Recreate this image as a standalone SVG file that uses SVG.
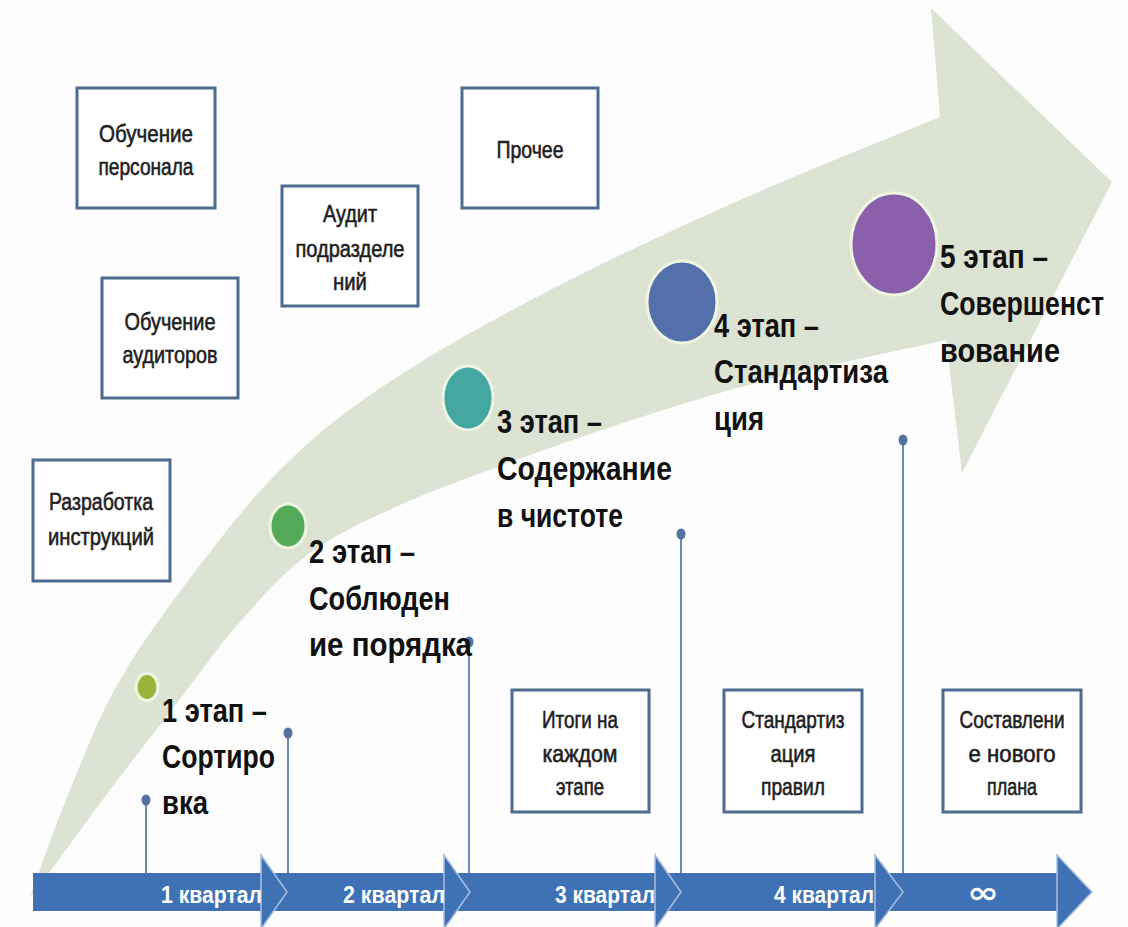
<svg xmlns="http://www.w3.org/2000/svg" width="1128" height="927" viewBox="0 0 1128 927">
<style>
.box{fill:#ffffff;stroke:#4d6c8f;stroke-width:3}
.bt{font-family:"Liberation Sans",Arial,sans-serif;font-size:24px;fill:#1e1e1e;stroke:#1e1e1e;stroke-width:0.6;text-anchor:middle}
.st{font-family:"Liberation Sans",Arial,sans-serif;font-size:33px;font-weight:bold;fill:#111111}
.tl{font-family:"Liberation Sans",Arial,sans-serif;font-size:24px;font-weight:bold;fill:#ffffff}
.stage{stroke:#eef5e2;stroke-width:3}
.conn{stroke:#6a8ab2;stroke-width:2;fill:none}
.dot{fill:#52729f}
.head{fill:#3e72b5;stroke:#a9c0dd;stroke-width:1.5}
</style>
<rect x="0" y="0" width="1128" height="927" fill="#fdfdfd"/>

<g id="curved-arrow">
<path fill="#dde3d3" d="M30,897 C36.7,879.2 55,826.2 70,790 C85,753.8 98.3,717.5 120,680 C141.7,642.5 171.7,601.7 200,565 C228.3,528.3 256.7,491.7 290,460 C323.3,428.3 355,404.2 400,375 C445,345.8 503.3,314.2 560,285 C616.7,255.8 676.7,228 740,200 C803.3,172 906.7,130.8 940,117 L931,8 L1112,182 L962,473 L946,340 C915,347 814.3,368 760,382 C705.7,396 663.3,410 620,424 C576.7,438 536.7,452.5 500,466 C463.3,479.5 431.7,490.5 400,505 C368.3,519.5 336.7,533.5 310,553 C283.3,572.5 263.3,595.5 240,622 C216.7,648.5 191.7,684 170,712 C148.3,740 128.3,765.7 110,790 C91.7,814.3 73.3,840.2 60,858 C46.7,875.8 35,890.5 30,897 Z"/>
</g>

<g id="connectors">
<line class="conn" x1="146" y1="800" x2="146" y2="874"/>
<line class="conn" x1="288" y1="733" x2="288" y2="874"/>
<line class="conn" x1="469" y1="642" x2="469" y2="874"/>
<line class="conn" x1="681" y1="534" x2="681" y2="874"/>
<line class="conn" x1="903" y1="440" x2="903" y2="874"/>
<ellipse class="dot" cx="146" cy="800" rx="4.5" ry="5.5"/>
<ellipse class="dot" cx="288" cy="733" rx="4.5" ry="5.5"/>
<ellipse class="dot" cx="469" cy="642" rx="4.5" ry="5.5"/>
<ellipse class="dot" cx="681" cy="534" rx="4.5" ry="5.5"/>
<ellipse class="dot" cx="903" cy="440" rx="4.5" ry="5.5"/>
</g>

<g id="timeline">
<rect x="33" y="873" width="1030" height="38" fill="#3e72b5"/>
<polygon class="head" points="261,855 287,892 261,929"/>
<polygon class="head" points="444,855 470,892 444,929"/>
<polygon class="head" points="655,855 681,892 655,929"/>
<polygon class="head" points="875,855 903,892 875,929"/>
<polygon class="head" points="1057,855 1092,892 1057,929"/>
<text class="tl" x="161" y="903" textLength="101" lengthAdjust="spacingAndGlyphs">1 квартал</text>
<text class="tl" x="343" y="903" textLength="102" lengthAdjust="spacingAndGlyphs">2 квартал</text>
<text class="tl" x="555" y="903" textLength="100" lengthAdjust="spacingAndGlyphs">3 квартал</text>
<text class="tl" x="774" y="903" textLength="100" lengthAdjust="spacingAndGlyphs">4 квартал</text>
<text x="967" y="903" font-family="DejaVu Sans,sans-serif" font-size="30" font-weight="bold" fill="#ffffff" textLength="32" lengthAdjust="spacingAndGlyphs">∞</text>
</g>

<g id="box-obuchenie-personala">
<rect class="box" x="77" y="88" width="138" height="120"/>
<text class="bt" x="146" y="142" textLength="94" lengthAdjust="spacingAndGlyphs">Обучение</text>
<text class="bt" x="146" y="175" textLength="95" lengthAdjust="spacingAndGlyphs">персонала</text>
</g>
<g id="box-audit">
<rect class="box" x="282" y="186" width="136" height="120"/>
<text class="bt" x="350" y="222" textLength="54" lengthAdjust="spacingAndGlyphs">Аудит</text>
<text class="bt" x="350" y="257" textLength="109" lengthAdjust="spacingAndGlyphs">подразделе</text>
<text class="bt" x="350" y="290" textLength="34" lengthAdjust="spacingAndGlyphs">ний</text>
</g>
<g id="box-prochee">
<rect class="box" x="462" y="88" width="136" height="120"/>
<text class="bt" x="530" y="158" textLength="67" lengthAdjust="spacingAndGlyphs">Прочее</text>
</g>
<g id="box-obuchenie-auditorov">
<rect class="box" x="102" y="278" width="136" height="120"/>
<text class="bt" x="170" y="330" textLength="91" lengthAdjust="spacingAndGlyphs">Обучение</text>
<text class="bt" x="170" y="363" textLength="95" lengthAdjust="spacingAndGlyphs">аудиторов</text>
</g>
<g id="box-razrabotka">
<rect class="box" x="33" y="460" width="137" height="121"/>
<text class="bt" x="101" y="510" textLength="104" lengthAdjust="spacingAndGlyphs">Разработка</text>
<text class="bt" x="101" y="545" textLength="106" lengthAdjust="spacingAndGlyphs">инструкций</text>
</g>
<g id="box-itogi">
<rect class="box" x="512" y="690" width="137" height="122"/>
<text class="bt" x="580" y="728" textLength="76" lengthAdjust="spacingAndGlyphs">Итоги на</text>
<text class="bt" x="580" y="762" textLength="75" lengthAdjust="spacingAndGlyphs">каждом</text>
<text class="bt" x="580" y="795" textLength="48" lengthAdjust="spacingAndGlyphs">этапе</text>
</g>
<g id="box-standartizaciya">
<rect class="box" x="724" y="690" width="138" height="122"/>
<text class="bt" x="793" y="728" textLength="103" lengthAdjust="spacingAndGlyphs">Стандартиз</text>
<text class="bt" x="793" y="762" textLength="45" lengthAdjust="spacingAndGlyphs">ация</text>
<text class="bt" x="793" y="795" textLength="64" lengthAdjust="spacingAndGlyphs">правил</text>
</g>
<g id="box-sostavlenie">
<rect class="box" x="943" y="690" width="138" height="122"/>
<text class="bt" x="1012" y="728" textLength="105" lengthAdjust="spacingAndGlyphs">Составлени</text>
<text class="bt" x="1012" y="762" textLength="87" lengthAdjust="spacingAndGlyphs">е нового</text>
<text class="bt" x="1012" y="795" textLength="50" lengthAdjust="spacingAndGlyphs">плана</text>
</g>

<g id="stage-1">
<ellipse class="stage" cx="147" cy="687" rx="11" ry="13.5" fill="#9ab43c"/>
<text class="st" x="162" y="722" textLength="105" lengthAdjust="spacingAndGlyphs">1 этап –</text>
<text class="st" x="162" y="768" textLength="113" lengthAdjust="spacingAndGlyphs">Сортиро</text>
<text class="st" x="162" y="814" textLength="46" lengthAdjust="spacingAndGlyphs">вка</text>
</g>
<g id="stage-2">
<ellipse class="stage" cx="288" cy="526" rx="18" ry="22" fill="#54aa58"/>
<text class="st" x="309" y="563" textLength="106" lengthAdjust="spacingAndGlyphs">2 этап –</text>
<text class="st" x="309" y="610" textLength="141" lengthAdjust="spacingAndGlyphs">Соблюден</text>
<text class="st" x="309" y="656" textLength="163" lengthAdjust="spacingAndGlyphs">ие порядка</text>
</g>
<g id="stage-3">
<ellipse class="stage" cx="468" cy="398" rx="25" ry="32" fill="#45a7a2"/>
<text class="st" x="497" y="433" textLength="105" lengthAdjust="spacingAndGlyphs">3 этап –</text>
<text class="st" x="497" y="480" textLength="175" lengthAdjust="spacingAndGlyphs">Содержание</text>
<text class="st" x="497" y="527" textLength="126" lengthAdjust="spacingAndGlyphs">в чистоте</text>
</g>
<g id="stage-4">
<ellipse class="stage" cx="682" cy="302" rx="35" ry="41" fill="#5470aa"/>
<text class="st" x="714" y="337" textLength="105" lengthAdjust="spacingAndGlyphs">4 этап –</text>
<text class="st" x="714" y="383" textLength="174" lengthAdjust="spacingAndGlyphs">Стандартиза</text>
<text class="st" x="714" y="430" textLength="50" lengthAdjust="spacingAndGlyphs">ция</text>
</g>
<g id="stage-5">
<ellipse class="stage" cx="894" cy="244" rx="43" ry="51" fill="#8a5fab"/>
<text class="st" x="940" y="268" textLength="108" lengthAdjust="spacingAndGlyphs">5 этап –</text>
<text class="st" x="940" y="315" textLength="164" lengthAdjust="spacingAndGlyphs">Совершенст</text>
<text class="st" x="940" y="362" textLength="120" lengthAdjust="spacingAndGlyphs">вование</text>
</g>
</svg>
